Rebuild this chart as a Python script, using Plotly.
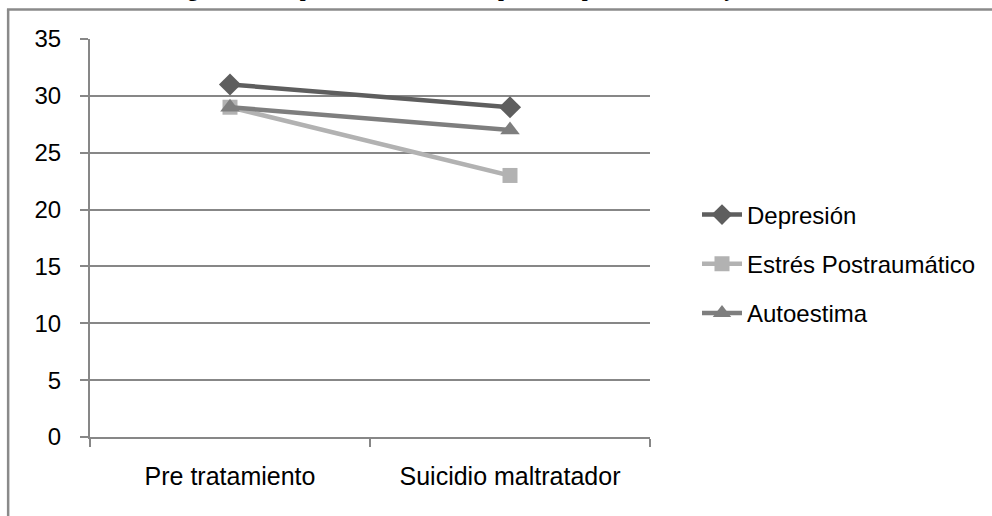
import plotly.graph_objects as go

# Data
categories = ["Pre tratamiento", "Suicidio maltratador"]
depresion = [31, 29]
estres = [29, 23]
autoestima = [29, 27]

series_names = ["Depresión", "Estrés Postraumático", "Autoestima"]
series_values = [depresion, estres, autoestima]
series_colors = ["#5e5e5e", "#b2b2b2", "#7e7e7e"]
series_symbols = ["diamond", "square", "triangle-up"]
symbol_sizes = [17, 15, 17]

W, H = 992, 516
ML, MR, MT, MB = 90, 341, 39, 79
PW, PH = W - ML - MR, H - MT - MB

def px_x(p):
    return (p - ML) / PW

def px_y(p):
    return (H - MB - p) / PH

fig = go.Figure()
for i, (name, vals) in enumerate(zip(series_names, series_values)):
    fig.add_trace(go.Scatter(
        x=categories, y=vals, name=name, mode="lines+markers",
        line=dict(color=series_colors[i], width=4.5),
        marker=dict(symbol=series_symbols[i], size=symbol_sizes[i],
                    color=series_colors[i]),
        legendgroup=name,
    ))

font_family = "Liberation Sans, Arial, sans-serif"
grid_color = "#878787"

fig.update_layout(
    width=W, height=H,
    margin=dict(l=ML, r=MR, t=MT, b=MB, pad=0),
    paper_bgcolor="white", plot_bgcolor="white",
    font=dict(family=font_family, size=24, color="#000000"),
    showlegend=True,
    legend=dict(
        x=px_x(697), y=px_y(264), xanchor="left", yanchor="middle",
        font=dict(family=font_family, size=24, color="#000000"),
        tracegroupgap=15, itemwidth=40, bgcolor="rgba(0,0,0,0)",
    ),
    xaxis=dict(
        type="category", range=[-0.5, 1.5],
        showline=True, linecolor=grid_color, linewidth=2,
        ticks="outside", ticklen=8, tickwidth=2, tickcolor=grid_color,
        tickson="boundaries", showgrid=False, zeroline=False,
        ticklabelstandoff=16,
        tickfont=dict(family=font_family, size=25, color="#000000"),
    ),
    yaxis=dict(
        range=[0, 35], dtick=5, tick0=0,
        showline=True, linecolor=grid_color, linewidth=2,
        ticks="outside", ticklen=8, tickwidth=2, tickcolor=grid_color,
        showgrid=True, gridcolor=grid_color, gridwidth=2, zeroline=False,
        ticklabelstandoff=14,
        tickfont=dict(family=font_family, size=24, color="#000000"),
    ),
    shapes=[
        dict(type="line", xref="paper", yref="paper",
             x0=px_x(8), x1=px_x(8), y0=px_y(9.5), y1=px_y(530),
             line=dict(color="#8a8a8a", width=2.5)),
        dict(type="line", xref="paper", yref="paper",
             x0=px_x(6.8), x1=px_x(1000), y0=px_y(9.5), y1=px_y(9.5),
             line=dict(color="#8a8a8a", width=2.5)),
    ],
    annotations=[
        dict(text="<b>Figura 1.  Temporalidad síntomas depresivos, postraumáticos y autoestima</b>",
             xref="paper", yref="paper", x=px_x(505), y=px_y(3),
             xanchor="center", yanchor="bottom", showarrow=False,
             font=dict(family="Liberation Serif, Times New Roman, serif", size=21, color="#000000")),
    ],
)

fig.write_html("out.html")
